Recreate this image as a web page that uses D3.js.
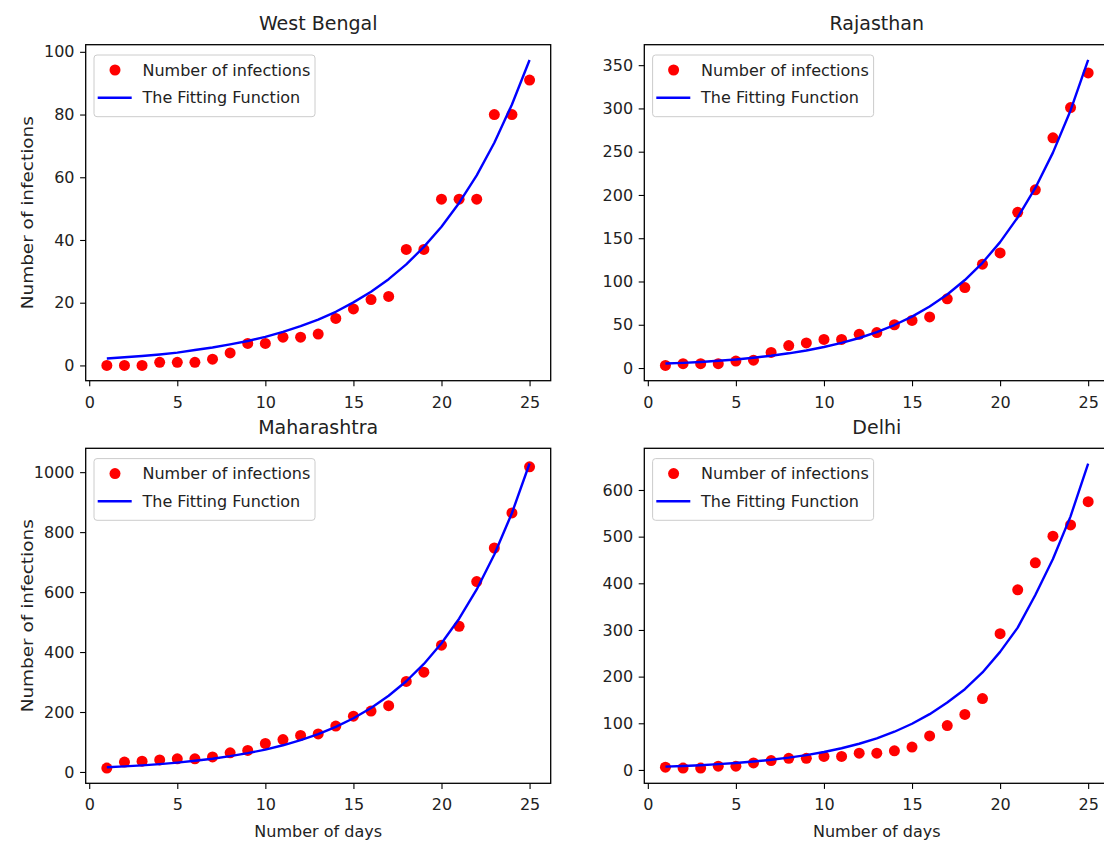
<!DOCTYPE html>
<html>
<head>
<meta charset="utf-8">
<script src="https://cdn.jsdelivr.net/npm/d3@7"></script>
<style>
    body { margin: 0; background: #fff; overflow: hidden; }
    svg { display: block; font-family: "DejaVu Sans", sans-serif; }
</style>
</head>
<body>
<div id="chart"></div>
<script>
const days = [1, 2, 3, 4, 5, 6, 7, 8, 9, 10, 11, 12, 13, 14, 15, 16, 17, 18, 19, 20, 21, 22, 23, 24, 25];
const xTicks = [0, 5, 10, 15, 20, 25];

const westBengalCases = [0, 0, 0, 1, 1, 1, 2, 4, 7, 7, 9, 9, 10, 15, 18, 21, 22, 37, 37, 53, 53, 53, 80, 80, 91];
const westBengalFit = [2.2, 2.6, 3.0, 3.5, 4.1, 4.9, 5.7, 6.7, 7.8, 9.1, 10.7, 12.5, 14.6, 17.1, 20.1, 23.5, 27.5, 32.2, 37.8, 44.2, 51.8, 60.6, 71.0, 83.2, 97.4];
const westBengalTicks = [0, 20, 40, 60, 80, 100];

const rajasthanCases = [3, 5, 5, 5, 8, 9, 18, 26, 29, 33, 33, 39, 41, 50, 55, 59, 80, 93, 120, 133, 180, 206, 266, 301, 341];
const rajasthanFit = [5.2, 6.0, 7.0, 8.4, 9.9, 11.9, 14.2, 17.0, 20.3, 24.3, 29.1, 34.7, 41.6, 49.7, 59.4, 71.1, 85.0, 101.7, 121.6, 145.5, 174.0, 208.1, 248.9, 297.7, 356.0];
const rajasthanTicks = [0, 50, 100, 150, 200, 250, 300, 350];

const maharashtraCases = [13, 33, 36, 40, 44, 44, 50, 64, 72, 95, 108, 122, 127, 153, 186, 203, 221, 302, 333, 423, 486, 635, 747, 864, 1018];
const maharashtraFit = [15.5, 18.5, 22.0, 26.2, 31.2, 37.2, 44.2, 52.7, 62.8, 74.7, 89.0, 106.0, 126.3, 150.4, 179.1, 213.3, 254.1, 302.6, 360.4, 429.3, 511.3, 608.9, 725.3, 863.8, 1028.8];
const maharashtraTicks = [0, 200, 400, 600, 800, 1000];

const delhiCases = [6, 4, 4, 8, 8, 15, 20, 25, 25, 29, 29, 36, 36, 41, 49, 73, 95, 119, 153, 292, 386, 444, 501, 525, 575];
const delhiFit = [7.0, 8.5, 10.2, 12.4, 14.9, 18.0, 21.8, 26.3, 31.8, 38.4, 46.5, 56.1, 67.8, 81.9, 99.0, 119.6, 144.5, 173.0, 209.0, 253.0, 305.0, 375.0, 452.0, 543.5, 656.7];
const delhiTicks = [0, 100, 200, 300, 400, 500, 600];

const stateNames = ["West Bengal", "Rajasthan", "Maharashtra", "Delhi"];
const legendLabels = ["Number of infections", "The Fitting Function"];
const xLabel = "Number of days";
const yLabel = "Number of infections";

const panels = [
    { title: stateNames[0], cases: westBengalCases, fit: westBengalFit, ticks: westBengalTicks, left: 85.7, top: 44.7, row: 0, col: 0 },
    { title: stateNames[1], cases: rajasthanCases, fit: rajasthanFit, ticks: rajasthanTicks, left: 644.3, top: 44.7, row: 0, col: 1 },
    { title: stateNames[2], cases: maharashtraCases, fit: maharashtraFit, ticks: maharashtraTicks, left: 85.7, top: 448.3, row: 1, col: 0 },
    { title: stateNames[3], cases: delhiCases, fit: delhiFit, ticks: delhiTicks, left: 644.3, top: 448.3, row: 1, col: 1 }
];

const panelWidth = 465;
const panelHeight = 336;
const fontSize = 16;

const svg = d3.select("#chart")
    .append("svg")
    .attr("width", 1104)
    .attr("height", 841);

svg.append("rect")
    .attr("width", 1104)
    .attr("height", 841)
    .attr("fill", "#fff");

const drawPanel = (p) => {
    const height = p.row === 0 ? panelHeight : 335;
    const g = svg.append("g")
        .attr("transform", `translate(${p.left}, ${p.top})`);

    // matplotlib style limits: 5% margin round the data
    const x = d3.scaleLinear()
        .domain([-0.2, 26.2])
        .range([0, panelWidth]);

    const allY = p.cases.concat(p.fit);
    const yMin = d3.min(allY), yMax = d3.max(allY);
    const pad = (yMax - yMin) * 0.05;
    const y = d3.scaleLinear()
        .domain([yMin - pad, yMax + pad])
        .range([height, 0]);

    const xAxis = g.append("g")
        .attr("transform", `translate(0, ${height})`)
        .call(d3.axisBottom(x).tickValues(xTicks).tickSize(5.6).tickPadding(10).tickFormat(d3.format("d")));
    xAxis.select(".domain").remove();
    xAxis.selectAll("line").attr("stroke", "#000").attr("stroke-width", 1.1);
    xAxis.selectAll("text")
        .attr("fill", "#222")
        .style("font-size", fontSize + "px")
        .style("font-family", "DejaVu Sans");

    const yAxis = g.append("g")
        .call(d3.axisLeft(y).tickValues(p.ticks).tickSize(5.6).tickPadding(5.6).tickFormat(d3.format("d")));
    yAxis.select(".domain").remove();
    yAxis.selectAll("line").attr("stroke", "#000").attr("stroke-width", 1.1);
    yAxis.selectAll("text")
        .attr("fill", "#222")
        .style("font-size", fontSize + "px")
        .style("font-family", "DejaVu Sans");

    g.selectAll(".dot")
        .data(days)
        .enter()
        .append("circle")
        .attr("class", "dot")
        .attr("cx", d => x(d))
        .attr("cy", (d, i) => y(p.cases[i]))
        .attr("r", 5.5)
        .attr("fill", "#ff0000");

    const line = d3.line()
        .x(d => x(d))
        .y((d, i) => y(p.fit[i]));

    g.append("path")
        .datum(days)
        .attr("d", line)
        .attr("fill", "none")
        .attr("stroke", "#0000ff")
        .attr("stroke-width", 2.4)
        .attr("stroke-linejoin", "round");

    g.append("rect")
        .attr("width", panelWidth)
        .attr("height", height)
        .attr("fill", "none")
        .attr("stroke", "#000")
        .attr("stroke-width", 1.3);

    g.append("text")
        .attr("x", panelWidth / 2)
        .attr("y", -14.7)
        .style("text-anchor", "middle")
        .style("font-size", "19px")
        .attr("fill", "#222")
        .text(p.title);

    // legend
    const legend = g.append("g")
        .attr("transform", "translate(8.3, 10.3)");

    legend.append("rect")
        .attr("width", 221)
        .attr("height", 61.7)
        .attr("rx", 3)
        .attr("fill", "#fff")
        .attr("fill-opacity", 0.8)
        .attr("stroke", "#cccccc")
        .attr("stroke-width", 1);

    legend.append("circle")
        .attr("cx", 21)
        .attr("cy", 15)
        .attr("r", 5.5)
        .attr("fill", "#ff0000");

    legend.append("line")
        .attr("x1", 3.7)
        .attr("x2", 37.7)
        .attr("y1", 42.7)
        .attr("y2", 42.7)
        .attr("stroke", "#0000ff")
        .attr("stroke-width", 2.4);

    legend.selectAll(".legend-text")
        .data(legendLabels)
        .enter()
        .append("text")
        .attr("class", "legend-text")
        .attr("x", 48.5)
        .attr("y", (d, i) => 15 + i * 27.7)
        .attr("dy", "0.36em")
        .style("font-size", fontSize + "px")
        .attr("fill", "#222")
        .text(d => d);

    if (p.col === 0) {
        // the y label is stretched along its length in the original picture
        svg.append("text")
            .attr("transform", `translate(33.3, ${p.top + height / 2}) scale(1, 1.19) rotate(-90)`)
            .style("text-anchor", "middle")
            .style("font-size", "15.5px")
            .attr("fill", "#222")
            .text(yLabel);
    }

    if (p.row === 1) {
        g.append("text")
            .attr("x", panelWidth / 2)
            .attr("y", height + 53.4)
            .style("text-anchor", "middle")
            .style("font-size", fontSize + "px")
            .attr("fill", "#222")
            .text(xLabel);
    }
};

panels.forEach(drawPanel);
</script>
</body>
</html>
